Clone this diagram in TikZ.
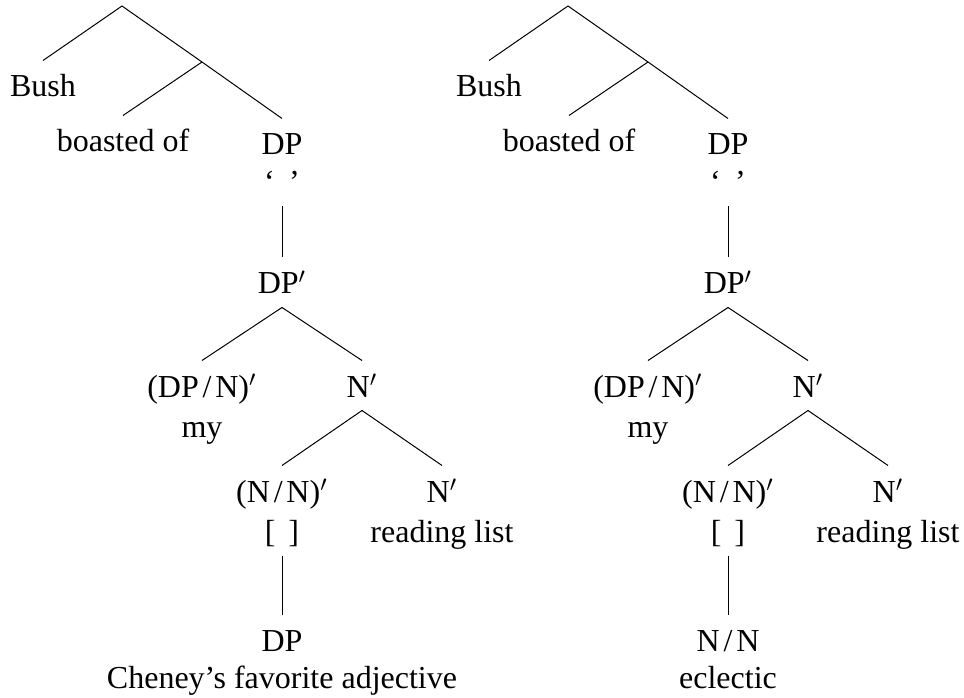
\documentclass[tikz,border=0pt]{standalone}
\usepackage{fontspec}
\setmainfont{Liberation Serif}
\begin{document}
\begin{tikzpicture}[x=0.4pt, y=-0.4pt, font=\fontsize{12.8}{15}\selectfont]
    \useasboundingbox (0,0) rectangle (964,698);

    % Define styles
    \tikzstyle{lbl}=[anchor=base, inner sep=0pt, text height=14.4pt, text depth=5.2pt]
    \tikzstyle{branch}=[draw=black, line width=0.4pt]
    \newcommand{\sla}{\kern0.12em/\kern0.12em}

    % Left tree
    \coordinate (top1) at (122,6);
    \coordinate (mid1) at (202,62);
    \node[lbl] (bush1) at (43,97) {Bush};
    \node[lbl] (boast1) at (123,152) {boasted of};
    \node[lbl] (dp1) at (282,155) {DP};
    \node[lbl] (quote1) at (282,193) {`\hspace{0.45em}'};
    \node[lbl] (dpbar1) at (282,294) {DP$'$};
    \node[lbl] (dpn1) at (202,397) {(DP\sla N)$'$};
    \node[lbl] (my1) at (202,437) {my};
    \node[lbl] (nbar1) at (362,397) {N$'$};
    \node[lbl] (nn1) at (282,502) {(N\sla N)$'$};
    \node[lbl] (brk1) at (282,542) {[\hspace{0.4em}]};
    \node[lbl] (nbarb1) at (442,502) {N$'$};
    \node[lbl] (list1) at (442,542) {reading list};
    \node[lbl] (dpc1) at (282,651) {DP};
    \node[lbl] (cheney1) at (282,688) {Cheney's favorite adjective};

    \draw[branch] (top1) -- (bush1.north);
    \draw[branch] (top1) -- (mid1) -- (dp1.north);
    \draw[branch] (mid1) -- (boast1.north);
    \draw[branch] (quote1.south) -- (dpbar1.north);
    \draw[branch] (dpbar1.south) -- (dpn1.north);
    \draw[branch] (dpbar1.south) -- (nbar1.north);
    \draw[branch] (nbar1.south) -- (nn1.north);
    \draw[branch] (nbar1.south) -- (nbarb1.north);
    \draw[branch] (brk1.south) -- (dpc1.north);

    % Right tree
    \coordinate (top2) at (568,6);
    \coordinate (mid2) at (648,62);
    \node[lbl] (bush2) at (489,97) {Bush};
    \node[lbl] (boast2) at (569,152) {boasted of};
    \node[lbl] (dp2) at (728,155) {DP};
    \node[lbl] (quote2) at (728,193) {`\hspace{0.45em}'};
    \node[lbl] (dpbar2) at (728,294) {DP$'$};
    \node[lbl] (dpn2) at (648,397) {(DP\sla N)$'$};
    \node[lbl] (my2) at (648,437) {my};
    \node[lbl] (nbar2) at (808,397) {N$'$};
    \node[lbl] (nn2) at (728,502) {(N\sla N)$'$};
    \node[lbl] (brk2) at (728,542) {[\hspace{0.4em}]};
    \node[lbl] (nbarb2) at (888,502) {N$'$};
    \node[lbl] (list2) at (888,542) {reading list};
    \node[lbl] (nslash2) at (728,651) {N\sla N};
    \node[lbl] (eclectic2) at (728,688) {eclectic};

    \draw[branch] (top2) -- (bush2.north);
    \draw[branch] (top2) -- (mid2) -- (dp2.north);
    \draw[branch] (mid2) -- (boast2.north);
    \draw[branch] (quote2.south) -- (dpbar2.north);
    \draw[branch] (dpbar2.south) -- (dpn2.north);
    \draw[branch] (dpbar2.south) -- (nbar2.north);
    \draw[branch] (nbar2.south) -- (nn2.north);
    \draw[branch] (nbar2.south) -- (nbarb2.north);
    \draw[branch] (brk2.south) -- (nslash2.north);
\end{tikzpicture}
\end{document}
